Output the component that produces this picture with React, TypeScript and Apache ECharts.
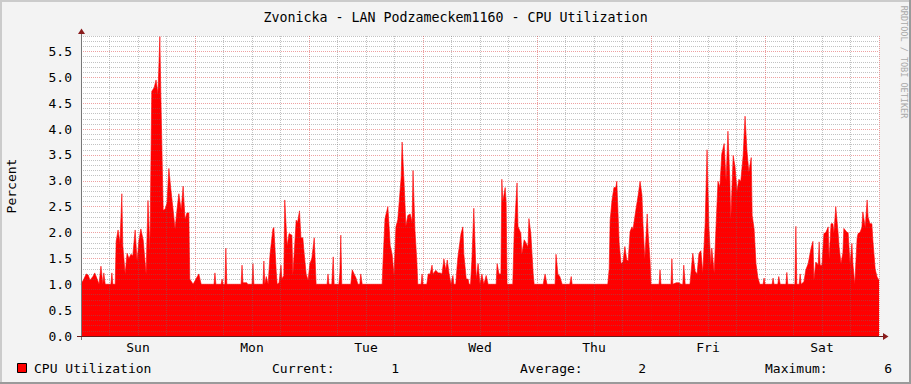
import React, { useEffect, useRef } from "react";
import * as echarts from "echarts";

const TITLE = "Zvonicka - LAN Podzameckem1160 - CPU Utilization";
const DAYS = ["Sun", "Mon", "Tue", "Wed", "Thu", "Fri", "Sat"];
const SERIES_NAME = "CPU Utilization";
const LEGEND_STATS = [
  { label: "Current:", value: "1" },
  { label: "Average:", value: "2" },
  { label: "Maximum:", value: "6" },
];

// [hours since Sunday 00:00, CPU percent]
const cpu: [number, number][] = [
  [0, 1.0], [0.6, 1.1], [1.1, 1.2], [1.5, 1.18], [1.9, 1.08], [2.5, 1.15], [2.9, 1.22], [3.4, 1.1], [3.8, 1.0], [4.2, 1.35], [4.6, 1.0], [4.8, 1.22], [5.1, 1.0], [6.3, 1.0], [6.5, 1.22], [6.7, 1.0], [7.2, 1.0], [7.4, 1.83], [7.8, 2.05], [8.2, 1.8], [8.6, 2.75], [8.8, 1.75], [9.3, 1.2], [9.7, 1.6], [10.1, 1.5], [10.5, 1.58], [10.9, 1.55], [11.4, 2.05], [11.8, 1.45], [12.2, 1.85], [12.6, 2.07], [13.1, 1.85], [13.7, 1.2], [14.1, 2.62], [14.5, 1.65], [14.9, 4.73], [15.4, 4.8], [15.8, 4.95], [16.2, 4.68], [16.6, 5.79], [16.8, 4.7], [17.3, 2.43], [17.7, 2.45], [18.1, 2.57], [18.5, 3.24], [18.9, 2.85], [19.4, 2.43], [19.8, 2.07], [20.2, 2.43], [20.6, 2.75], [21.1, 2.43], [21.5, 2.9], [21.9, 2.25], [22.3, 2.38], [22.7, 2.38], [22.9, 1.1], [23.6, 1.0], [24.2, 1.1], [24.8, 1.2], [25.3, 1.0],
  [28.0, 1.0], [28.2, 1.22], [28.4, 1.0], [29.5, 1.0], [29.7, 1.1], [29.9, 1.0], [30.3, 1.0], [30.5, 1.7], [30.7, 1.0], [33.7, 1.0], [33.9, 1.37], [34.1, 1.03], [34.9, 1.03], [35.1, 1.0], [36.0, 1.0], [36.2, 1.4], [36.4, 1.0], [38.3, 1.0], [38.5, 1.45], [38.7, 1.0], [39.0, 1.15], [39.4, 1.0], [39.8, 1.58], [40.4, 2.07], [40.6, 2.1], [41.1, 1.25], [41.3, 1.0], [41.7, 1.03], [42.1, 1.37], [42.3, 1.1], [42.7, 1.17], [42.9, 2.63], [43.4, 1.74], [43.8, 1.98], [44.4, 1.95], [44.6, 1.17], [45.3, 2.24], [45.6, 2.2], [46.0, 2.42], [46.3, 1.9], [46.7, 1.9], [47.0, 1.58], [47.4, 1.2], [47.8, 1.08], [48.2, 1.4], [48.6, 1.5], [49.1, 1.9], [49.5, 1.0],
  [51.8, 1.0], [52.0, 1.2], [52.2, 1.0], [52.8, 1.0], [53.1, 1.53], [53.3, 1.0], [54.3, 1.0], [54.5, 1.23], [54.7, 1.95], [54.9, 1.0], [56.8, 1.0], [57.1, 1.28], [57.5, 1.2], [57.9, 1.12], [58.3, 1.0], [58.7, 1.0], [58.9, 1.2], [59.2, 1.0], [63.4, 1.0], [63.6, 1.46], [64.0, 2.27], [64.6, 2.5], [65.1, 1.75], [65.5, 1.58], [65.9, 1.17], [66.3, 2.11], [66.7, 2.25], [67.4, 3.07], [67.6, 3.75], [68.0, 3.0], [68.4, 2.12], [68.8, 2.33], [69.3, 2.36], [69.7, 2.2], [69.9, 3.2], [70.3, 2.05], [70.7, 1.45], [70.9, 1.0],
  [71.6, 1.0], [71.8, 1.2], [72.0, 1.0], [72.8, 1.0], [73.1, 1.2], [73.5, 1.2], [73.9, 1.37], [74.1, 1.2], [74.7, 1.27], [75.2, 1.22], [75.6, 1.22], [76.0, 1.2], [76.4, 1.49], [76.8, 1.27], [77.1, 1.47], [77.5, 1.2], [77.9, 1.0], [78.3, 1.17], [78.5, 1.0], [78.9, 1.0], [79.2, 1.37], [79.4, 1.56], [80.0, 1.98], [80.4, 2.11], [80.6, 1.58], [81.1, 1.1], [81.5, 1.1], [81.7, 1.0], [82.0, 1.0], [82.3, 1.47], [82.7, 2.47], [83.2, 1.1], [83.6, 1.4], [84.0, 1.0], [84.4, 1.2], [84.8, 1.0], [85.3, 1.17], [85.7, 1.0],
  [87.4, 1.0], [87.6, 1.4], [88.0, 1.2], [88.4, 1.2], [88.6, 3.03], [88.8, 2.6], [89.3, 2.87], [89.5, 2.6], [89.7, 1.0], [90.9, 1.0], [91.2, 1.98], [91.8, 2.96], [92.0, 2.12], [92.6, 1.98], [92.8, 1.58], [93.3, 1.86], [93.7, 1.8], [94.1, 1.72], [94.3, 2.27], [94.7, 1.98], [95.2, 1.2], [95.4, 1.0], [97.3, 1.0], [97.7, 1.2], [98.1, 1.0], [99.8, 1.0], [100.0, 1.58], [100.4, 1.2], [100.8, 1.15], [101.3, 1.0], [102.9, 1.0], [103.2, 1.15], [103.4, 1.0],
  [110.9, 1.0], [111.2, 1.3], [111.4, 2.24], [111.8, 2.63], [112.2, 2.87], [112.6, 2.87], [112.8, 2.99], [113.3, 1.79], [113.7, 1.4], [114.1, 1.43], [114.5, 1.73], [114.9, 1.47], [115.2, 1.45], [115.6, 2.02], [116.0, 2.11], [116.2, 2.05], [116.8, 2.43], [117.3, 2.72], [117.7, 2.99], [118.1, 2.72], [118.3, 2.18], [118.7, 1.49], [119.2, 2.36], [119.4, 1.98], [119.8, 1.45], [120.0, 1.0], [121.7, 1.0], [121.9, 1.28], [122.1, 1.0], [124.2, 1.0], [124.4, 1.49], [124.6, 1.0], [125.3, 1.03], [125.9, 1.03], [126.3, 1.0], [126.7, 1.0], [126.9, 1.37], [127.2, 1.0],
  [128.2, 1.0], [128.4, 1.2], [128.8, 1.6], [129.3, 1.25], [129.7, 1.2], [130.1, 1.6], [130.5, 1.65], [130.9, 1.22], [131.4, 2.17], [131.8, 3.6], [132.2, 2.1], [132.6, 1.37], [132.8, 1.7], [133.3, 1.22], [133.7, 2.12], [134.1, 2.99], [134.5, 2.88], [134.9, 3.52], [135.4, 3.72], [135.8, 3.0], [136.2, 3.96], [136.6, 3.0], [136.8, 2.25], [137.3, 3.49], [137.7, 3.27], [138.1, 2.8], [138.5, 3.03], [138.9, 2.99], [139.4, 3.49], [139.8, 4.25], [140.2, 3.58], [140.6, 3.17], [141.1, 3.45], [141.3, 2.33], [141.7, 2.08], [142.1, 1.4], [142.5, 1.13], [142.9, 1.0],
  [143.6, 1.0], [143.8, 1.12], [144.0, 1.0], [145.5, 1.0], [145.7, 1.12], [145.9, 1.0], [146.7, 1.0], [146.9, 1.15], [147.2, 1.0], [148.4, 1.0], [148.6, 1.23], [148.8, 1.0], [150.3, 1.0], [150.5, 2.12], [150.7, 1.0], [151.2, 1.0], [151.4, 1.2], [151.6, 1.0], [152.2, 1.05], [152.6, 1.28], [153.1, 1.4], [153.7, 1.7], [154.1, 1.83], [154.3, 1.08], [154.7, 1.43], [155.2, 1.37], [155.4, 1.82], [155.6, 1.37], [156.0, 1.37], [156.4, 1.98], [156.8, 2.0], [157.3, 2.11], [157.5, 1.48], [157.9, 2.17], [158.3, 2.17], [158.5, 1.98], [158.9, 2.5], [159.4, 1.98], [159.6, 1.72], [160.0, 1.4], [160.4, 1.61], [160.6, 2.08], [161.3, 2.0], [161.5, 2.0], [161.9, 1.4], [162.3, 1.79], [162.5, 1.4], [162.9, 1.0], [163.4, 1.9], [163.6, 1.98], [164.0, 2.0], [164.4, 2.1], [164.6, 2.4], [165.1, 2.1], [165.5, 2.63], [165.7, 2.3], [166.1, 2.17], [166.5, 2.17], [166.7, 1.86], [167.2, 1.29], [167.6, 1.14], [168.0, 1.08],
];

const FONT = '"DejaVu Sans Mono", "Liberation Mono", monospace';
const MINOR = "rgba(110,110,110,0.42)";
const MAJOR = "rgba(215,30,30,0.42)";
const ARROW = "#8a1c1c";

function txt(text: string, x: number, y: number, align = "left", extra: any = {}) {
  return {
    type: "text",
    x,
    y,
    z: 100,
    ...extra,
    style: {
      text,
      fill: extra.fill || "#000",
      font: extra.font || `13px ${FONT}`,
      align,
      textAlign: align,
      verticalAlign: "middle",
      textVerticalAlign: "middle",
    },
  };
}

export default function App() {
  const ref = useRef<HTMLDivElement>(null);
  useEffect(() => {
    if (!ref.current) return;
    const chart = echarts.init(ref.current, undefined, { renderer: "svg" });
    const statX = [
      [272, 399],
      [520, 646],
      [765, 892],
    ];
    const graphics: any[] = [
      { type: "rect", shape: { x: 0, y: 0, width: 911, height: 2 }, style: { fill: "#cbcbcb" }, z: 100 },
      { type: "rect", shape: { x: 0, y: 0, width: 2, height: 384 }, style: { fill: "#cbcbcb" }, z: 100 },
      { type: "rect", shape: { x: 909, y: 0, width: 2, height: 384 }, style: { fill: "#9a9a9a" }, z: 100 },
      { type: "rect", shape: { x: 0, y: 382, width: 911, height: 2 }, style: { fill: "#9a9a9a" }, z: 100 },
      // axis extensions and arrows
      { type: "line", z: 100, shape: { x1: 81.5, y1: 33, x2: 81.5, y2: 340 }, style: { stroke: "#777", lineWidth: 1 } },
      { type: "line", z: 100, shape: { x1: 77, y1: 336.5, x2: 884, y2: 336.5 }, style: { stroke: "#6a1a1a", lineWidth: 1 } },
      { type: "polygon", z: 101, shape: { points: [[78, 34], [85, 34], [81.5, 28.5]] }, style: { fill: ARROW } },
      { type: "polygon", z: 101, shape: { points: [[883, 333], [883, 340], [888.5, 336.5]] }, style: { fill: ARROW } },
      txt("Percent", 11, 186, "center", { rotation: Math.PI / 2 }),
      txt("RRDTOOL / TOBI OETIKER", 904, 62, "center", {
        rotation: -Math.PI / 2,
        fill: "#a9a9a9",
        font: `8.5px ${FONT}`,
      }),
      {
        type: "rect",
        z: 100,
        shape: { x: 17.5, y: 363.5, width: 9, height: 9 },
        style: { fill: "#ff0000", stroke: "#000", lineWidth: 1 },
      },
      txt(SERIES_NAME, 34, 368),
    ];
    LEGEND_STATS.forEach((s, i) => {
      graphics.push(txt(s.label, statX[i][0], 368));
      graphics.push(txt(s.value, statX[i][1], 368, "right"));
    });

    chart.setOption({
      animation: false,
      backgroundColor: "#f3f3f3",
      title: {
        text: TITLE,
        left: "center",
        top: 6,
        textStyle: { fontFamily: FONT, fontSize: 13.3, fontWeight: "normal", color: "#000" },
      },
      grid: {
        left: 81,
        right: 32,
        top: 36,
        bottom: 48,
        show: true,
        backgroundColor: "#ffffff",
        borderWidth: 0,
      },
      xAxis: {
        type: "value",
        min: 0,
        max: 168,
        interval: 6,
        z: 3,
        axisLine: { show: false },
        axisTick: { show: false },
        axisLabel: {
          interval: 0,
          margin: 5,
          fontFamily: FONT,
          fontSize: 13,
          color: "#000",
          formatter: (v: number) => (v % 24 === 12 ? DAYS[(v - 12) / 24] : ""),
        },
        splitLine: {
          show: true,
          lineStyle: { color: [MAJOR, MINOR, MINOR, MINOR], type: [1, 1], width: 1 },
        },
      },
      yAxis: {
        type: "value",
        min: 0,
        max: 5.8,
        interval: 0.1,
        z: 3,
        axisLine: { show: false },
        axisTick: { show: false },
        axisLabel: {
          margin: 9,
          fontFamily: FONT,
          fontSize: 13,
          color: "#000",
          formatter: (v: number) => (Math.round(v * 10) % 5 === 0 ? v.toFixed(1) : ""),
        },
        splitLine: {
          show: true,
          lineStyle: { color: [MAJOR, MINOR, MINOR, MINOR, MINOR], type: [1, 1], width: 1 },
        },
      },
      series: [
        {
          name: SERIES_NAME,
          type: "line",
          data: cpu,
          showSymbol: false,
          symbol: "none",
          lineStyle: { color: "#ff0000", width: 0.6 },
          areaStyle: { color: "#ff0000", opacity: 1 },
          z: 2,
        },
      ],
      graphic: graphics,
    });
    return () => chart.dispose();
  }, []);
  return (
    <div
      ref={ref}
      style={{ position: "absolute", left: 0, top: 0, width: 911, height: 384 }}
    />
  );
}
